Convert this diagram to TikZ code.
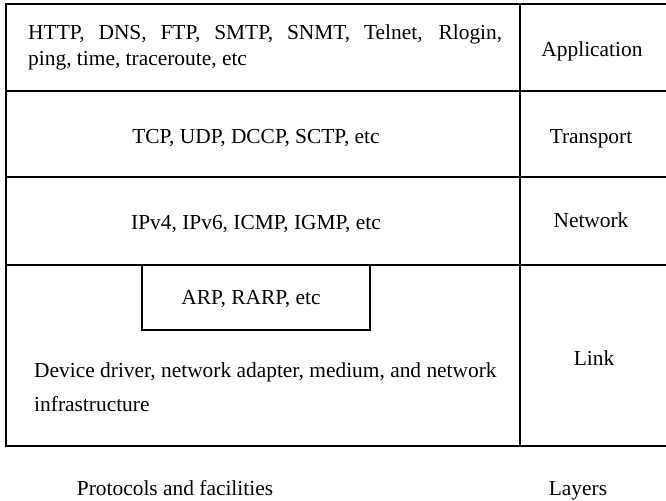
\documentclass[tikz,border=0pt]{standalone}
\usepackage{fontspec}
\setmainfont{Liberation Serif}
\usepackage{tikz}
\usetikzlibrary{positioning}

\tikzset{
  txt/.style={inner sep=0pt, font=\fontsize{10.7}{13}\selectfont},
  layer/.style={txt, anchor=base}
}

\begin{document}
\begin{tikzpicture}[x=0.5pt, y=-0.5pt, line width=1.25pt]
            \useasboundingbox (0,0) rectangle (666,501);
            \coordinate (tl) at (6,4);
            \coordinate (tr) at (666,4);
            \coordinate (bl) at (6,446);
            \coordinate (br) at (666,446);
            \coordinate (mt) at (520,4);
            \coordinate (mb) at (520,446);
            % frame
            \draw (tr) -- (tl) -- (bl) -- (br);
            \draw (mt) -- (mb);
            \foreach \y in {91,177,265}
              \draw (6,\y) -- (666,\y);
            % arp box
            \draw (142,265) -- (142,330) -- (370,330) -- (370,265);

            \node [txt, anchor=base west, align=left] (app) at (27,66)
              {\makebox[237pt][s]{HTTP, DNS, FTP, SMTP, SNMT, Telnet, Rlogin,}\\ping, time, traceroute, etc};
            \node [txt, anchor=base] (tcp) at (256,144) {TCP, UDP, DCCP, SCTP, etc};
            \node [txt, anchor=base] (ip) at (256,230) {IPv4, IPv6, ICMP, IGMP, etc};
            \node [txt, anchor=base] (arp) at (251,305) {ARP, RARP, etc};
            \node [txt, anchor=base west, align=left, font=\fontsize{10.7}{17}\selectfont] (dev) at (33,412)
              {Device driver, network adapter, medium, and network\\infrastructure};

            \node [layer] (appl) at (592,57) {Application};
            \node [layer] (tra) at (591,144) {Transport};
            \node [layer] (net) at (591,228) {Network};
            \node [layer] (lnk) at (594,366) {Link};

            \node [txt, anchor=base] (prot) at (175,496) {Protocols and facilities};
            \node [txt, anchor=base] (lay) at (578,496) {Layers};
          \end{tikzpicture}
\end{document}
